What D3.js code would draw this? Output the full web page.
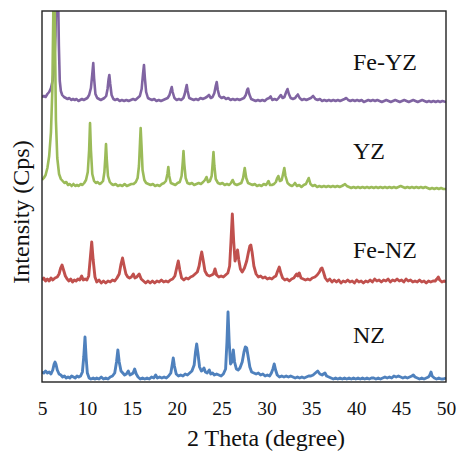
<!DOCTYPE html>
<html>
<head>
<meta charset="utf-8">
<script src="https://cdn.jsdelivr.net/npm/d3@7"></script>
<style>
  html, body { margin: 0; padding: 0; background: #fff; }
  svg { display: block; }
</style>
</head>
<body>
<svg id="chart" width="458" height="454" font-family="'Liberation Serif', 'Times New Roman', serif"></svg>
<script>
// XRD patterns, 2θ (degree) vs intensity (a.u.), stacked with vertical offsets
const seriesNames = ["Fe-YZ", "YZ", "Fe-NZ", "NZ"];
const seriesColors = ["#8064A2", "#9BBB59", "#C0504D", "#4F81BD"];
const stackOffsets = [276, 192, 96, 0];
const xTicks = [5, 10, 15, 20, 25, 30, 35, 40, 45, 50];

const feYZ = [[5.0,9],[5.2,10],[5.4,9],[5.6,12],[5.8,14],[6.0,18],[6.2,26],[6.35,40],[6.5,70],[6.6,120],[6.68,180],[6.78,120],[6.88,60],[6.98,25],[7.1,15],[7.25,11],[7.45,9],[7.65,8],[7.85,7],[8.05,8],[8.25,6],[8.45,7],[8.65,6],[8.85,7],[9.05,5],[9.25,6],[9.45,7],[9.65,6],[9.85,7],[10.05,8],[10.25,11],[10.45,18],[10.6,32],[10.71,43],[10.8,28],[10.95,12],[11.15,8],[11.35,7],[11.55,6],[11.75,7],[11.95,8],[12.15,10],[12.3,17],[12.42,27],[12.5,31],[12.6,22],[12.75,11],[12.95,7],[13.15,6],[13.4,7],[13.65,5],[13.9,6],[14.15,5],[14.4,6],[14.65,5],[14.9,6],[15.15,7],[15.4,6],[15.65,8],[15.9,10],[16.1,17],[16.25,32],[16.36,41],[16.46,28],[16.6,14],[16.8,8],[17.0,7],[17.25,6],[17.5,7],[17.75,5],[18.0,6],[18.25,5],[18.5,6],[18.75,7],[19.0,8],[19.2,11],[19.35,16],[19.45,19],[19.55,14],[19.75,8],[20.0,6],[20.25,7],[20.5,6],[20.75,8],[20.9,12],[21.02,17],[21.12,21],[21.22,15],[21.4,8],[21.65,7],[21.9,6],[22.15,7],[22.4,6],[22.65,8],[22.9,7],[23.15,8],[23.35,9],[23.6,11],[23.8,8],[24.0,9],[24.2,13],[24.35,20],[24.46,24],[24.58,16],[24.75,10],[25.0,8],[25.25,9],[25.5,7],[25.75,8],[26.0,6],[26.25,7],[26.5,6],[26.75,7],[27.0,6],[27.25,7],[27.5,8],[27.7,11],[27.85,16],[27.95,17.5],[28.08,12],[28.3,7],[28.55,6],[28.8,5],[29.05,6],[29.3,5],[29.55,6],[29.8,5],[30.05,7],[30.3,8],[30.47,9.5],[30.65,6],[30.9,7],[31.15,6],[31.35,8],[31.6,11],[31.8,8],[32.0,9],[32.2,14],[32.35,17],[32.5,12],[32.7,8],[32.95,7],[33.2,8],[33.35,10],[33.5,11.5],[33.7,8],[33.95,6],[34.2,7],[34.45,6],[34.7,7],[34.95,8],[35.2,10],[35.45,7],[35.7,6],[35.95,7],[36.2,5],[36.45,6],[36.7,5],[36.95,6],[37.2,5],[37.45,6],[37.7,5],[37.95,6],[38.2,5],[38.45,6],[38.7,7],[38.9,8],[39.1,6],[39.35,5],[39.6,6],[39.85,5],[40.1,6],[40.35,5],[40.6,6],[40.85,4],[41.1,5],[41.35,6],[41.6,5],[41.85,6],[42.1,5],[42.35,6],[42.6,5],[42.85,4],[43.1,5],[43.35,6],[43.6,5],[43.85,4],[44.1,5],[44.35,6],[44.6,5],[44.85,4],[45.1,5],[45.35,6],[45.6,5],[45.85,4],[46.1,5],[46.35,6],[46.6,5],[46.85,4],[47.1,5],[47.35,6],[47.6,5],[47.85,4],[48.1,5],[48.35,4],[48.6,5],[48.85,4],[49.1,5],[49.35,4],[49.6,5],[50,4]];

const yz = [[5.0,10],[5.2,12],[5.4,15],[5.6,22],[5.8,34],[6.0,58],[6.15,100],[6.25,170],[6.34,260],[6.45,150],[6.55,70],[6.7,32],[6.9,16],[7.1,11],[7.3,9],[7.5,7],[7.7,8],[7.9,5],[8.1,6],[8.3,4],[8.5,6],[8.7,4],[8.9,5],[9.1,4],[9.3,6],[9.5,5],[9.7,7],[9.9,10],[10.1,18],[10.25,40],[10.35,67],[10.45,40],[10.6,16],[10.8,9],[11.0,7],[11.2,8],[11.4,6],[11.6,7],[11.8,9],[11.95,18],[12.05,32],[12.13,46],[12.22,30],[12.35,14],[12.55,8],[12.75,6],[12.95,5],[13.2,6],[13.45,4],[13.7,5],[13.95,4],[14.2,6],[14.45,4],[14.7,5],[14.95,6],[15.2,6],[15.45,8],[15.65,12],[15.8,24],[15.92,48],[15.99,62],[16.08,45],[16.2,20],[16.4,10],[16.6,7],[16.85,6],[17.1,5],[17.35,6],[17.6,4],[17.85,5],[18.1,4],[18.35,6],[18.6,7],[18.8,9],[18.97,16],[19.07,23],[19.17,14],[19.35,7],[19.6,6],[19.85,5],[20.1,7],[20.35,8],[20.55,14],[20.68,28],[20.76,39],[20.85,26],[21.0,12],[21.2,7],[21.45,6],[21.7,7],[21.95,5],[22.2,6],[22.45,7],[22.7,6],[22.95,8],[23.15,10],[23.32,13],[23.5,8],[23.7,9],[23.9,14],[24.02,28],[24.1,38],[24.2,24],[24.35,11],[24.6,7],[24.85,6],[25.1,7],[25.35,5],[25.6,6],[25.85,5],[26.05,7],[26.24,10],[26.45,6],[26.7,5],[26.95,6],[27.2,7],[27.4,12],[27.58,22],[27.75,12],[27.95,7],[28.2,6],[28.45,5],[28.7,6],[28.95,4],[29.2,5],[29.45,4],[29.7,6],[29.95,5],[30.1,7],[30.23,9],[30.4,5],[30.6,5],[30.85,6],[31.05,8],[31.2,12],[31.32,14],[31.5,9],[31.7,10],[31.85,16],[31.99,22],[32.12,14],[32.35,7],[32.6,5],[32.85,4],[33.0,5],[33.18,7],[33.4,4],[33.65,5],[33.9,3],[34.15,5],[34.4,6],[34.55,9],[34.71,12],[34.9,6],[35.15,4],[35.4,5],[35.65,3],[35.9,4],[36.15,3],[36.4,4],[36.65,3],[36.9,4],[37.15,3],[37.4,4],[37.65,3],[37.9,4],[38.15,3],[38.4,4],[38.6,5],[38.75,6],[38.95,4],[39.2,3],[39.45,2],[39.7,3],[39.95,2],[40.2,3],[40.45,2],[40.7,3],[40.95,2],[41.2,3],[41.45,2],[41.7,3],[41.95,2],[42.2,3],[42.45,2],[42.7,3],[42.95,2],[43.2,3],[43.45,2],[43.7,3],[43.95,2],[44.2,3],[44.45,2],[44.7,3],[44.95,4],[45.2,3],[45.45,2],[45.7,3],[45.95,2],[46.2,3],[46.45,2],[46.7,3],[46.95,2],[47.2,3],[47.45,2],[47.7,3],[47.95,2],[48.2,1],[48.45,2],[48.7,1],[48.95,2],[49.2,1],[49.45,2],[49.7,1],[50,1]];

const feNZ = [[5.0,6],[5.2,8],[5.4,5],[5.6,7],[5.8,5],[6.0,8],[6.2,6],[6.45,8],[6.7,9],[6.9,12],[7.08,18],[7.23,21],[7.4,16],[7.6,10],[7.8,7],[8.0,5],[8.2,7],[8.4,4],[8.6,6],[8.8,5],[9.0,7],[9.2,6],[9.42,10],[9.6,6],[9.8,7],[10.0,6],[10.2,10],[10.38,28],[10.54,44],[10.7,26],[10.9,9],[11.1,4],[11.35,6],[11.6,3],[11.85,5],[12.1,3],[12.35,5],[12.6,4],[12.85,6],[13.1,5],[13.35,8],[13.6,12],[13.8,22],[13.97,28],[14.15,20],[14.35,12],[14.55,9],[14.75,8],[14.95,9],[15.17,12],[15.35,8],[15.55,9],[15.83,12],[16.05,7],[16.3,5],[16.55,3],[16.8,5],[17.05,3],[17.3,5],[17.55,3],[17.8,5],[18.05,4],[18.3,6],[18.55,4],[18.8,5],[19.05,4],[19.3,6],[19.55,7],[19.8,10],[20.0,18],[20.18,25],[20.35,16],[20.55,8],[20.8,6],[21.05,8],[21.3,7],[21.55,9],[21.8,10],[22.05,12],[22.3,14],[22.5,20],[22.65,28],[22.79,34],[22.95,26],[23.15,15],[23.4,11],[23.65,10],[23.9,11],[24.1,12],[24.27,17],[24.45,11],[24.7,9],[24.95,10],[25.2,9],[25.45,11],[25.7,13],[25.9,20],[26.05,45],[26.2,72],[26.35,45],[26.5,25],[26.65,30],[26.78,36],[26.92,26],[27.1,17],[27.3,14],[27.55,18],[27.8,25],[28.0,34],[28.15,40],[28.26,41],[28.4,34],[28.6,20],[28.85,12],[29.1,9],[29.35,10],[29.6,8],[29.85,9],[30.1,7],[30.35,8],[30.6,7],[30.85,9],[31.05,10],[31.25,15],[31.43,19],[31.6,13],[31.8,8],[32.05,6],[32.3,7],[32.55,5],[32.8,7],[33.05,8],[33.2,10],[33.37,12],[33.5,10],[33.66,13],[33.85,8],[34.1,7],[34.35,6],[34.6,7],[34.85,6],[35.1,8],[35.4,9],[35.65,11],[35.9,14],[36.05,17],[36.19,18],[36.35,14],[36.55,8],[36.8,5],[37.05,7],[37.3,4],[37.55,6],[37.8,4],[38.05,6],[38.3,3],[38.55,5],[38.8,4],[39.05,6],[39.3,4],[39.55,5],[39.8,3],[40.05,6],[40.3,4],[40.55,5],[40.8,3],[41.05,5],[41.3,4],[41.55,6],[41.8,4],[42.05,7],[42.3,5],[42.55,6],[42.8,4],[43.05,6],[43.3,5],[43.55,7],[43.8,4],[44.05,6],[44.3,5],[44.55,7],[44.8,5],[45.05,6],[45.3,4],[45.55,7],[45.8,5],[46.05,6],[46.3,4],[46.55,5],[46.8,4],[47.05,6],[47.3,4],[47.55,5],[47.8,3],[48.05,5],[48.3,4],[48.55,5],[48.8,5],[48.98,7],[49.14,9],[49.3,6],[49.55,4],[49.8,5],[50,4]];

const nz = [[5.0,10],[5.2,9],[5.4,11],[5.6,9],[5.8,10],[6.0,8],[6.2,12],[6.35,18],[6.45,20],[6.55,18],[6.7,12],[6.9,8],[7.1,7],[7.3,5],[7.5,6],[7.7,4],[7.9,5],[8.1,4],[8.3,6],[8.5,5],[8.7,4],[8.9,6],[9.1,5],[9.3,6],[9.5,10],[9.65,25],[9.79,45],[9.92,24],[10.05,9],[10.25,4],[10.45,3],[10.7,4],[10.9,3],[11.1,4],[11.35,3],[11.6,5],[11.85,3],[12.1,4],[12.35,3],[12.6,5],[12.85,6],[13.1,9],[13.3,20],[13.45,32],[13.6,20],[13.8,11],[14.0,9],[14.2,7],[14.4,8],[14.61,11],[14.8,7],[15.0,8],[15.15,9],[15.32,13],[15.5,8],[15.7,5],[15.95,3],[16.2,4],[16.45,3],[16.7,4],[16.95,3],[17.2,5],[17.45,4],[17.66,7],[17.85,4],[18.1,5],[18.35,4],[18.6,5],[18.85,4],[19.1,6],[19.35,9],[19.5,17],[19.62,24],[19.75,16],[19.95,8],[20.2,6],[20.45,7],[20.7,6],[20.95,8],[21.2,7],[21.45,9],[21.7,11],[21.95,17],[22.1,30],[22.23,38],[22.38,28],[22.55,15],[22.75,11],[22.9,12],[23.04,14],[23.2,10],[23.4,9],[23.63,12],[23.8,8],[24.0,9],[24.2,7],[24.45,8],[24.7,7],[24.95,6],[25.2,8],[25.45,13],[25.6,40],[25.72,70],[25.85,40],[26.0,18],[26.15,20],[26.31,32],[26.45,20],[26.65,13],[26.85,12],[27.05,14],[27.3,20],[27.5,30],[27.65,35],[27.8,34],[27.95,26],[28.15,15],[28.35,10],[28.6,9],[28.85,8],[29.1,9],[29.35,7],[29.6,8],[29.85,6],[30.1,7],[30.35,6],[30.55,9],[30.72,13],[30.87,18],[31.02,12],[31.2,7],[31.45,5],[31.7,6],[31.95,5],[32.2,6],[32.45,5],[32.7,6],[32.95,5],[33.2,4],[33.45,5],[33.7,4],[33.95,5],[34.2,4],[34.45,5],[34.7,6],[34.95,6],[35.2,7],[35.45,9],[35.71,11],[35.95,8],[36.2,7],[36.35,8],[36.52,9],[36.7,6],[36.95,5],[37.2,4],[37.45,3],[37.7,4],[37.95,3],[38.2,4],[38.45,3],[38.7,4],[38.95,3],[39.2,4],[39.45,3],[39.7,4],[39.95,3],[40.2,4],[40.45,3],[40.7,4],[40.95,3],[41.2,4],[41.45,3],[41.7,4],[41.95,4],[42.2,3],[42.45,4],[42.7,3],[42.95,4],[43.2,5],[43.45,4],[43.7,5],[43.95,4],[44.2,6],[44.45,5],[44.7,6],[44.95,5],[45.2,4],[45.45,5],[45.7,4],[45.95,5],[46.2,6],[46.36,7],[46.55,5],[46.8,4],[47.05,3],[47.3,4],[47.55,3],[47.8,4],[48.05,5],[48.2,7],[48.33,10],[48.45,6],[48.7,4],[48.95,3],[49.2,4],[49.45,3],[49.7,3],[50,4]];

const patterns = [feYZ, yz, feNZ, nz];
const strokeWidths = [2.6, 2.6, 2.9, 2.9];

// ---- layout ----
const FONT = "'Liberation Serif', 'Times New Roman', serif";
const plot = { left: 42, right: 446, top: 11, bottom: 382 };

const x = d3.scaleLinear().domain([5, 50]).range([plot.left, plot.right]);
const y = d3.scaleLinear().domain([0, 371]).range([plot.bottom, plot.top]);

const svg = d3.select("#chart");

svg.append("defs").append("clipPath").attr("id", "plot-clip")
  .append("rect")
  .attr("x", plot.left).attr("y", plot.top)
  .attr("width", plot.right - plot.left).attr("height", plot.bottom - plot.top);

const lines = svg.append("g").attr("clip-path", "url(#plot-clip)");

patterns.forEach((pts, i) => {
  const off = stackOffsets[i];
  const line = d3.line()
    .x(d => x(d[0]))
    .y(d => y(d[1] + off));
  lines.append("path")
    .datum(pts)
    .attr("fill", "none")
    .attr("stroke", seriesColors[i])
    .attr("stroke-width", strokeWidths[i])
    .attr("stroke-linejoin", "round")
    .attr("d", line);
});

// frame
svg.append("rect")
  .attr("x", plot.left).attr("y", plot.top)
  .attr("width", plot.right - plot.left).attr("height", plot.bottom - plot.top)
  .attr("fill", "none").attr("stroke", "#222").attr("stroke-width", 1.4);

// x axis labels (no tick marks)
const xAxis = d3.axisBottom(x).tickValues(xTicks).tickSize(0).tickPadding(0);
const gx = svg.append("g")
  .attr("transform", `translate(0,${plot.bottom})`)
  .call(xAxis)
  .attr("font-family", FONT)
  .attr("font-size", 19.5);
gx.select(".domain").remove();
gx.selectAll("text")
  .attr("dy", null)
  .attr("y", 33)
  .attr("fill", "#111");

// axis titles
svg.append("text")
  .attr("x", (plot.left + plot.right) / 2 + 22)
  .attr("y", 446)
  .attr("text-anchor", "middle")
  .attr("font-family", FONT)
  .attr("font-size", 24)
  .attr("fill", "#111")
  .text("2 Theta (degree)");

svg.append("text")
  .attr("transform", "translate(29,212) rotate(-90)")
  .attr("text-anchor", "middle")
  .attr("font-family", FONT)
  .attr("font-size", 24)
  .attr("fill", "#111")
  .text("Intensity (Cps)");

// series labels
const labelY = [70, 159, 258, 343];
seriesNames.forEach((name, i) => {
  svg.append("text")
    .attr("x", 353)
    .attr("y", labelY[i])
    .attr("font-family", FONT)
    .attr("font-size", 24)
    .attr("fill", "#111")
    .text(name);
});
</script>
</body>
</html>
